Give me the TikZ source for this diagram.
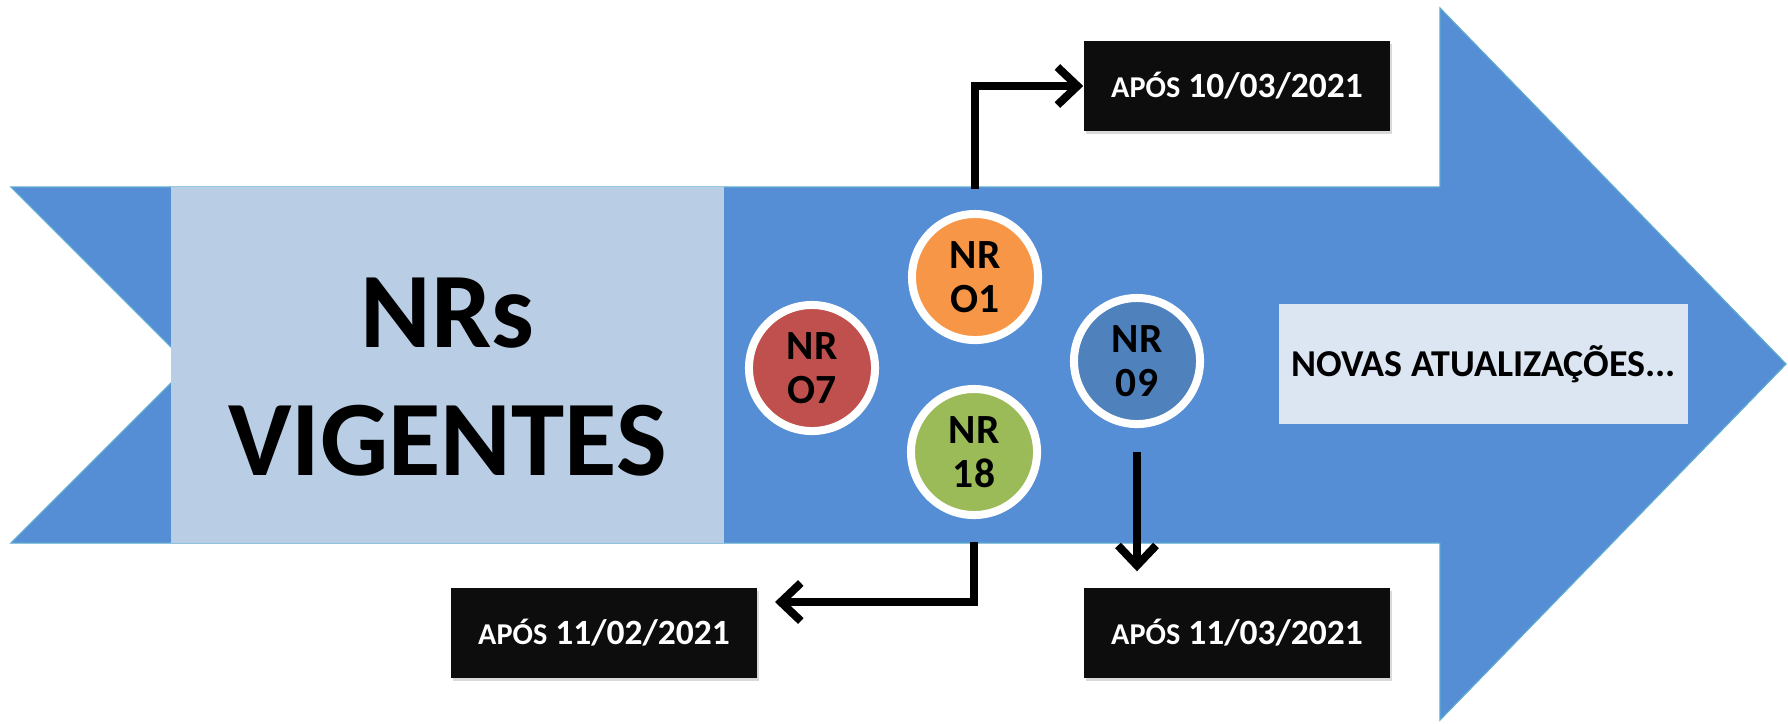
\documentclass[tikz,border=0pt]{standalone}
\usepackage{fontspec}
\setmainfont{Carlito}
\usepackage{tikz}
\usetikzlibrary{arrows.meta,shadows}
\definecolor{bandblue}{HTML}{558ED5}
\definecolor{bandedge}{HTML}{5DA9D0}
\definecolor{paleblue}{HTML}{B9CDE5}
\definecolor{mistblue}{HTML}{DCE6F2}
\definecolor{nrorange}{HTML}{F79646}
\definecolor{nrred}{HTML}{C0504D}
\definecolor{nrgreen}{HTML}{9BBB59}
\definecolor{nrblue}{HTML}{4F81BD}
\tikzstyle{nrball}=[circle,draw=white,line width=0.08cm,minimum size=1.26cm,inner sep=0pt,align=center,font=\bfseries\fontsize{11.8}{12.5}\selectfont,drop shadow={opacity=0.25,shadow xshift=0.02cm,shadow yshift=-0.03cm}]
\tikzstyle{datebox}=[fill=black!95,text=white,minimum width=3.06cm,minimum height=0.9cm,inner sep=0pt,font=\bfseries,drop shadow={opacity=0.3,shadow xshift=0.02cm,shadow yshift=-0.03cm}]
\tikzstyle{link}=[line width=0.08cm,-{Straight Barb[length=0.2cm,width=0.38cm]}]
\newcommand{\afterdate}[1]{{\fontsize{8.6}{10}\selectfont APÓS} {\fontsize{10.1}{12}\selectfont #1}}

\begin{document}
\begin{tikzpicture}[x=0.01cm,y=-0.01cm]
  \useasboundingbox (0,0) rectangle (1788,723);
  \draw[fill=bandblue,draw=bandedge,line width=0.012cm] (11,187) -- (1440,187) -- (1440,8) -- (1786,364) -- (1440,720) -- (1440,543) -- (11,543) -- (189,365) -- cycle;

  \node[fill=paleblue,minimum width=5.53cm,minimum height=3.56cm] (vig) at (447.5,365) {};
  \node[align=center,font=\bfseries\fontsize{30.5}{36.5}\selectfont] (vigtext) at (447.5,377) {NRs\\VIGENTES};
  \node[fill=mistblue,minimum width=4.09cm,minimum height=1.2cm,font=\bfseries\fontsize{10.8}{12}\selectfont] (novas) at (1483.5,364) {NOVAS ATUALIZAÇÕES...};

  \node[nrball,fill=nrorange] (o1) at (975,277) {NR\\O1};
  \node[nrball,fill=nrred] (o7) at (812,368) {NR\\O7};
  \node[nrball,fill=nrgreen] (o18) at (974,452) {NR\\18};
  \node[nrball,fill=nrblue] (o09) at (1137,361) {NR\\09};

  \node[datebox] (d1) at (1237,86) {\afterdate{10/03/2021}};
  \node[datebox] (d2) at (604,633) {\afterdate{11/02/2021}};
  \node[datebox] (d3) at (1237,633) {\afterdate{11/03/2021}};
  \coordinate (t2) at (775,602);
  \coordinate (t3) at (o09.south |- d3.north);

  \draw[link,shorten <=0.21cm] (o1.north) |- (d1.west);
  \draw[link,shorten <=0.23cm] (o18.south) |- (t2);
  \draw[link,shorten <=0.24cm,shorten >=0.16cm] (o09.south) -- (t3);
\end{tikzpicture}
\end{document}
